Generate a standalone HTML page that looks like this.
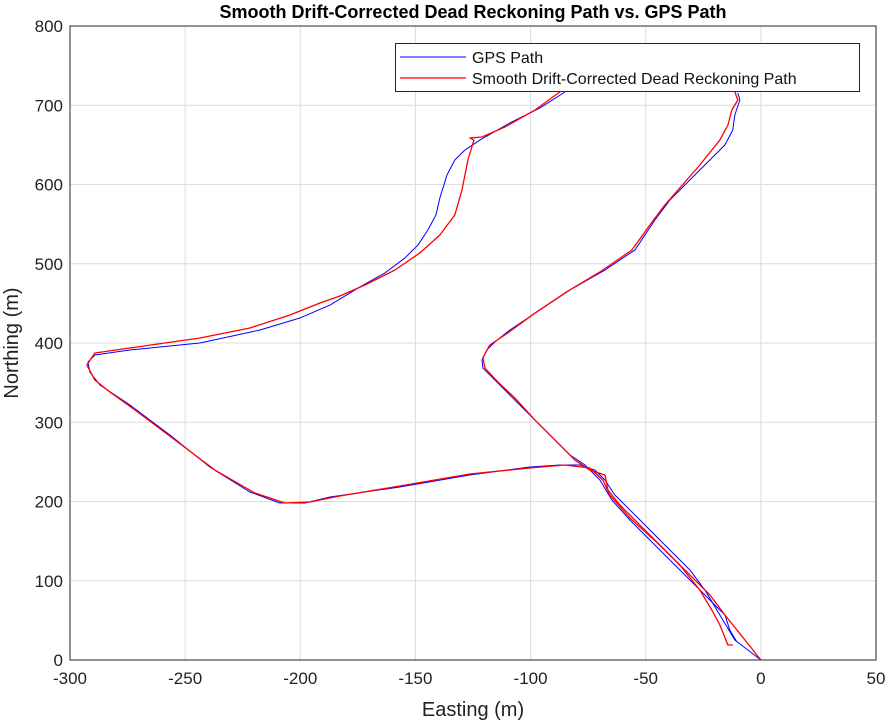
<!DOCTYPE html>
<html><head><meta charset="utf-8"><style>
body{margin:0;background:#fff;}
svg{display:block;font-family:"Liberation Sans",sans-serif;}
</style></head><body>
<svg id="chart" width="890" height="722"></svg>
<script>
const xTicks=[-300,-250,-200,-150,-100,-50,0,50];
const yTicks=[0,100,200,300,400,500,600,700,800];
const gpsA_x=[-85.1,-96.0,-109.0,-122.0,-128.5,-132.9,-136.3,-139.4,-141.1,-144.6,-148.9,-154.6,-163.3,-174.1,-187.1,-200.2,-217.5,-243.6,-274.0,-289.2,-292.2,-291.4,-287.0,-274.0,-256.6,-239.3,-221.9,-208.9,-198.0,-187.1,-156.8,-126.4,-100.3,-87.3,-78.6,-72.1,-67.7,-63.4,-52.5,-41.7,-30.8,-24.3,-17.8,-11.3,0];
const gpsA_y=[716.7,696.5,677.6,656.1,643.5,630.9,612.0,582.9,561.5,542.6,523.6,507.2,488.3,470.7,447.9,431.5,416.4,400.0,391.2,384.8,376.0,363.4,347.0,321.8,283.9,243.5,212.0,198.1,198.1,205.7,218.3,233.4,243.5,246.1,246.1,239.7,227.1,208.2,176.7,145.1,113.6,88.3,56.8,25.2,0];
const gpsB_x=[-10.0,-9.1,-11.3,-12.2,-15.6,-26.5,-39.5,-46.0,-54.7,-67.7,-82.9,-96.0,-109.0,-115.5,-119.0,-121.1,-120.7,-115.5,-109.0,-102.5,-93.8,-87.3,-82.9,-76.4,-69.9,-64.7,-56.9,-48.2,-39.5,-30.8,-24.3,-20.0,-15.6,-13.5,-10.4];
const gpsB_y=[715.4,706.6,687.7,668.8,649.8,618.3,580.4,555.2,517.3,492.1,466.9,441.6,416.4,401.3,391.2,378.5,368.4,353.3,334.4,315.5,290.2,271.3,258.7,246.1,227.1,201.9,176.7,151.4,126.2,100.9,82.0,69.4,56.8,37.9,22.7];
const drA_x=[-87.3,-98.1,-111.2,-121.1,-126.4,-124.6,-127.2,-129.8,-132.9,-139.4,-148.1,-158.9,-171.9,-182.8,-191.5,-204.5,-221.9,-243.6,-274.0,-289.2,-292.7,-289.2,-282.7,-271.8,-254.4,-237.1,-219.7,-206.7,-195.8,-182.8,-156.8,-126.4,-100.3,-85.1,-74.3,-68.6,-65.6,-56.9,-43.9,-35.2,-26.5,-21.3,-17.8,-14.3,-12.2];
const drA_y=[716.7,694.0,672.5,659.9,658.7,656.1,630.9,593.0,561.5,536.3,513.6,492.1,473.2,459.3,450.5,435.3,418.9,406.3,393.7,387.4,372.2,353.3,338.2,315.5,277.6,239.7,210.7,198.1,199.4,206.9,219.6,234.7,242.3,246.1,242.3,227.1,208.2,179.2,145.1,119.9,88.3,63.1,44.2,18.9,18.9];
const drB_x=[-11.3,-10.0,-12.6,-14.3,-17.8,-26.5,-41.7,-48.2,-56.0,-69.9,-85.1,-98.1,-109.9,-117.7,-120.7,-119.8,-114.2,-106.8,-98.1,-89.4,-80.8,-74.3,-67.7,-66.4,-61.2,-52.5,-43.9,-30.8,-22.1,-15.6,-6.9,0];
const drB_y=[716.7,706.6,694.0,675.1,656.1,624.6,574.1,548.9,517.3,489.6,463.1,437.8,412.6,397.5,381.1,368.4,350.8,330.6,302.8,277.6,252.4,239.7,233.4,214.5,195.6,170.3,145.1,107.3,82.0,56.8,25.2,0];

const L=70,R=876,T=26,B=660;
const sx=v=>L+(v-(-300))/350*(R-L);
const sy=v=>B-(v/800)*(B-T);
const NS="http://www.w3.org/2000/svg";
const svg=document.getElementById('chart');
function mk(tag,attrs,parent){const e=document.createElementNS(NS,tag);for(const k in attrs)e.setAttribute(k,attrs[k]);(parent||svg).appendChild(e);return e;}

mk('rect',{x:L,y:T,width:R-L,height:B-T,fill:'#fff'});
xTicks.forEach(t=>{
  const g=mk('line',{x1:sx(t),x2:sx(t),y1:T,y2:B,stroke:'#dcdcdc','stroke-width':1});
  
  
  const tx=mk('text',{x:sx(t),y:B+24,'text-anchor':'middle','font-size':17,fill:'#222'});
  tx.textContent=t;
  
  
});
yTicks.forEach(t=>{
  const g=mk('line',{x1:L,x2:R,y1:sy(t),y2:sy(t),stroke:'#dcdcdc','stroke-width':1});
  
  
  const tx=mk('text',{x:L-7,y:sy(t)+6,'text-anchor':'end','font-size':17,fill:'#222'});
  tx.textContent=t;
  
  
});
function path(xs,ys,color,name){
  const p=mk('polyline',{points:xs.map((x,i)=>sx(x)+','+sy(ys[i])).join(' '),fill:'none',stroke:color,'stroke-width':color=='red'?1.3:1,'stroke-linejoin':'round'});
  
  
}
path(gpsA_x,gpsA_y,'blue','gps-path-a');
path(gpsB_x,gpsB_y,'blue','gps-path-b');
path(drA_x,drA_y,'red','dead-reckoning-path-a');
path(drB_x,drB_y,'red','dead-reckoning-path-b');
const ax=mk('rect',{x:L,y:T,width:R-L,height:B-T,fill:'none',stroke:'#262626','stroke-width':1});


</script>
<svg width="890" height="722" style="position:absolute;left:0;top:0">
<text x="473" y="18" text-anchor="middle" font-size="18" font-weight="bold">Smooth Drift-Corrected Dead Reckoning Path vs. GPS Path</text>
<text x="473" y="716" text-anchor="middle" font-size="20" fill="#222">Easting (m)</text>
<text x="18" y="343" text-anchor="middle" font-size="20" fill="#222" transform="rotate(-90 18 343)">Northing (m)</text>
<g>
<rect x="395.5" y="43.5" width="464" height="48" fill="#fff" stroke="#262626"/>
<line x1="400" x2="466" y1="57" y2="57" stroke="blue"/>
<text x="472" y="63" font-size="16" fill="#111">GPS Path</text>
<line x1="400" x2="466" y1="78" y2="78" stroke="red" stroke-width="1.3"/>
<text x="472" y="84" font-size="16" fill="#111">Smooth Drift-Corrected Dead Reckoning Path</text>
</g>
</svg>
</body></html>
